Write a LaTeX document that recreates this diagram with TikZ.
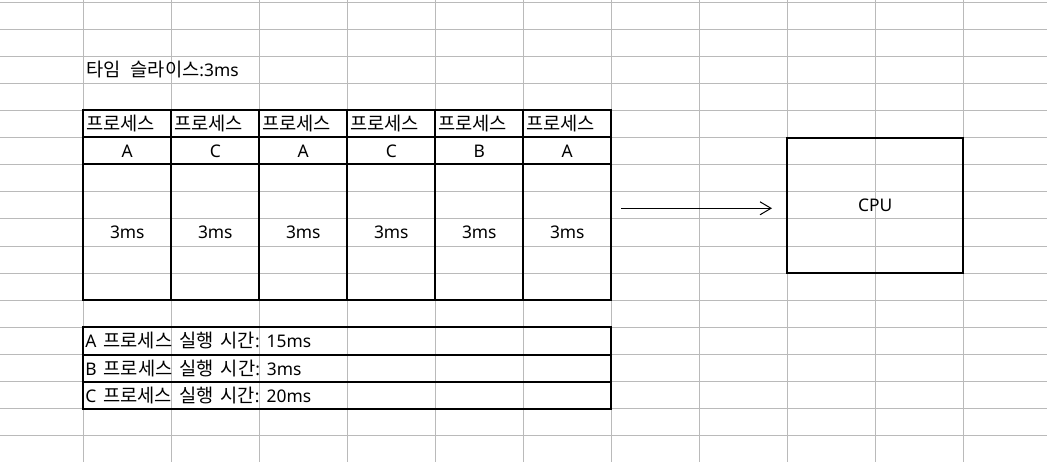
\documentclass[tikz,border=0pt]{standalone}
\usepackage{fontspec}
\setmainfont{Noto Sans}
\newfontfamily\kr{Noto Sans CJK KR}[Scale=1.075]
\newcommand\gapsp{\hspace{7pt}}
\usetikzlibrary{arrows.meta}
\frenchspacing
\begin{document}
\begin{tikzpicture}[x=1pt,y=-1pt,
  gridline/.style={draw=black!27,line width=1pt},
  txt/.style={font=\fontsize{17.4}{20}\selectfont,inner sep=0pt},
  cellbox/.style={draw=black,line width=2pt,inner ysep=0pt,font=\fontsize{17.4}{20}\selectfont},
  hdr/.style={cellbox,inner xsep=3pt,text width=82pt,align=left,minimum height=27.1pt},
  lcell/.style={cellbox,inner xsep=0pt,minimum width=88pt,minimum height=27.1pt},
  tcell/.style={cellbox,inner xsep=0pt,minimum width=88pt,minimum height=135.8pt},
  info/.style={cellbox,inner xsep=2pt,text width=524pt,align=left,minimum height=27.1pt},
  cpubox/.style={cellbox,minimum width=176pt,minimum height=135.5pt},
  flow/.style={line width=1pt,-{Straight Barb[length=11pt,width=13pt,line width=1pt]}}]
\useasboundingbox (0,0) rectangle (1047,462);
\fill[white] (0,0) rectangle (1047,462);
% spreadsheet grid
\foreach \k in {-1,...,11} \draw[gridline] ({83.3+88*\k},0) -- ({83.3+88*\k},462);
\foreach \k in {0,...,17} \draw[gridline] (0,{2.2+27.1*\k}) -- (1047,{2.2+27.1*\k});
% title
\node[txt,anchor=base west] (title) at (86,77) {{\kr 타임\hspace{10pt}슬라이스}:3ms};
% process table
\foreach \L [count=\i from 0] in {A,C,A,C,B,A} {
  \node[hdr] (h\i) at ({127.3+88*\i},123.85) {{\kr 프로세스}};
  \node[lcell] (l\i) at ({127.3+88*\i},150.95) {\raisebox{-1.5pt}{\L}};
  \node[tcell] (t\i) at ({127.3+88*\i},232.4) {\raisebox{-1.5pt}{3ms}};
}
% info rows
\node[info] (ia) at (347.3,340.95) {\raisebox{-2pt}{A\gapsp{\kr 프로세스\gapsp 실행\gapsp 시간}:\gapsp 15ms}};
\node[info] (ib) at (347.3,368.05) {\raisebox{-2pt}{B\gapsp{\kr 프로세스\gapsp 실행\gapsp 시간}:\gapsp 3ms}};
\node[info] (ic) at (347.3,395.15) {\raisebox{-2pt}{C\gapsp{\kr 프로세스\gapsp 실행\gapsp 시간}:\gapsp 20ms}};
% CPU
\node[cpubox] (cpu) at (875.3,205.45) {CPU};
% arrow
\coordinate (as) at (621,208.3);
\coordinate (ae) at (772,208.3);
\draw[flow] (as) -- (ae);
\end{tikzpicture}
\end{document}
